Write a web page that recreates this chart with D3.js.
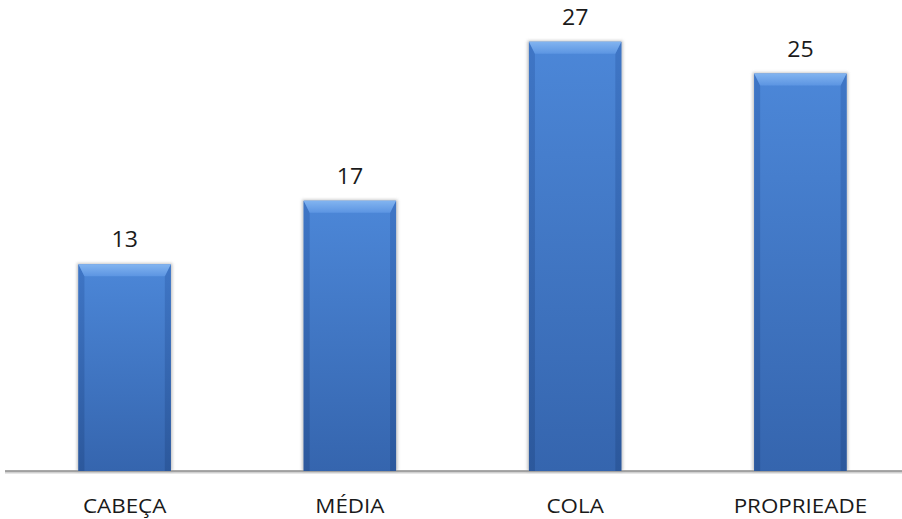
<!DOCTYPE html>
<html>
<head>
<meta charset="utf-8">
<script src="https://cdn.jsdelivr.net/npm/d3@7"></script>
<style>
  html, body { margin: 0; padding: 0; background: #fff; }
  svg { display: block; }
</style>
</head>
<body>
<svg id="chart" width="902" height="519"></svg>
<script>
// Chart data
const categories = ["CABEÇA", "MÉDIA", "COLA", "PROPRIEADE"];
const values = [13, 17, 27, 25];

const W = 902, H = 519;
const baseY = 471;
const svg = d3.select("#chart");

const x = d3.scaleBand().domain(categories).range([12, 913]).paddingInner(0.59).paddingOuter(0.295);
const y = d3.scaleLinear().domain([0, 30]).range([baseY, baseY - 30 * 15.9]);

const defs = svg.append("defs");
const body = defs.append("linearGradient").attr("id", "gBody").attr("x1", 0).attr("y1", 0).attr("x2", 0).attr("y2", 1);
body.append("stop").attr("offset", 0).attr("stop-color", "#4c87d8");
body.append("stop").attr("offset", 1).attr("stop-color", "#3565ae");
const side = defs.append("linearGradient").attr("id", "gSide").attr("x1", 0).attr("y1", 0).attr("x2", 0).attr("y2", 1);
side.append("stop").attr("offset", 0).attr("stop-color", "#3f76c6");
side.append("stop").attr("offset", 1).attr("stop-color", "#2c589c");
const topG = defs.append("linearGradient").attr("id", "gTop").attr("x1", 0).attr("y1", 0).attr("x2", 0).attr("y2", 1);
topG.append("stop").attr("offset", 0).attr("stop-color", "#82b4f0");
topG.append("stop").attr("offset", 1).attr("stop-color", "#5c95e2");
const blur = defs.append("filter").attr("id", "shadow").attr("x", "-10%").attr("y", "-10%").attr("width", "120%").attr("height", "120%");
blur.append("feGaussianBlur").attr("stdDeviation", 1.5);

// Axis baseline
svg.append("line").attr("x1", 5).attr("x2", 902).attr("y1", baseY + 1.5).attr("y2", baseY + 1.5)
  .attr("stroke", "#d0d0d0").attr("stroke-width", 2);
svg.append("line").attr("x1", 5).attr("x2", 902).attr("y1", baseY).attr("y2", baseY)
  .attr("stroke", "#8a8a8a").attr("stroke-width", 1.5);

const bev = 12, sb = 6;
const bars = svg.append("g").selectAll("g").data(categories).join("g");

// soft shadow behind each bar
bars.append("rect")
  .attr("x", d => x(d) - 1.5)
  .attr("y", (d, i) => y(values[i]) - 1)
  .attr("width", x.bandwidth() + 3)
  .attr("height", (d, i) => baseY - y(values[i]) + 1)
  .attr("fill", "#9a9a9a").attr("opacity", 0.6).attr("filter", "url(#shadow)");

bars.append("rect")
  .attr("x", d => x(d))
  .attr("y", (d, i) => y(values[i]))
  .attr("width", x.bandwidth())
  .attr("height", (d, i) => baseY - y(values[i]))
  .attr("fill", "url(#gBody)");

// side bevels
bars.append("path").attr("fill", "url(#gSide)").attr("d", (d, i) => {
  const x0 = x(d), t = y(values[i]);
  return `M${x0},${t}L${x0 + sb},${t + bev}L${x0 + sb},${baseY}L${x0},${baseY}Z`;
});
bars.append("path").attr("fill", "url(#gSide)").attr("d", (d, i) => {
  const x1 = x(d) + x.bandwidth(), t = y(values[i]);
  return `M${x1},${t}L${x1 - sb},${t + bev}L${x1 - sb},${baseY}L${x1},${baseY}Z`;
});
// top bevel
bars.append("path").attr("fill", "url(#gTop)").attr("d", (d, i) => {
  const x0 = x(d), x1 = x0 + x.bandwidth(), t = y(values[i]);
  return `M${x0},${t}L${x1},${t}L${x1 - sb},${t + bev}L${x0 + sb},${t + bev}Z`;
});

// value labels
bars.append("text")
  .attr("transform", (d, i) => `translate(${x(d) + x.bandwidth() / 2},${y(values[i]) - 17}) scale(1.05,1)`)
  .attr("text-anchor", "middle")
  .attr("font-family", "'Open Sans', sans-serif")
  .attr("font-size", 22)
  .attr("fill", "#1a1a1a")
  .text((d, i) => values[i]);

// category labels
svg.append("g").selectAll("text").data(categories).join("text")
  .attr("transform", d => `translate(${x(d) + x.bandwidth() / 2},513) scale(1.12,1)`)
  .attr("text-anchor", "middle")
  .attr("font-family", "'Open Sans', sans-serif")
  .attr("font-size", 20)
  .attr("fill", "#1a1a1a")
  .text(d => d);
</script>
</body>
</html>
